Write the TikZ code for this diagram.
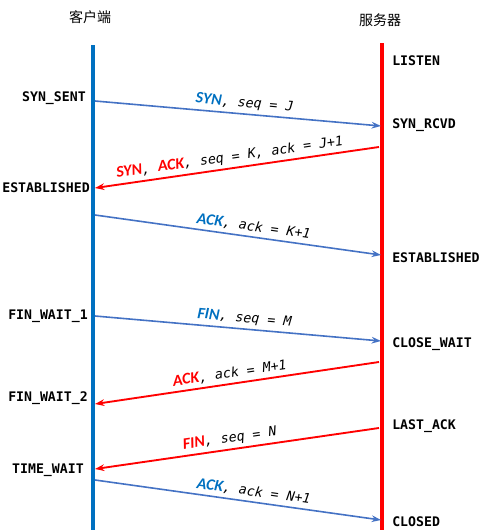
\documentclass[tikz,border=0pt]{standalone}
\usepackage{fontspec}
\usepackage{xcolor}
\setmonofont{DejaVu Sans Mono}
\newfontfamily\cjk{Noto Sans CJK SC}
\newfontfamily\kwfont[Scale=1.2]{Carlito}
\definecolor{lineblue}{RGB}{0,112,192}
\definecolor{arrowblue}{RGB}{68,114,196}
\definecolor{linered}{RGB}{255,0,0}
\newcommand{\st}[1]{\texttt{\bfseries #1}}
\newcommand{\kw}[2]{\textcolor{#1}{\kwfont\bfseries\itshape #2}}
\newcommand{\msg}[1]{\texttt{\itshape #1}}
\usetikzlibrary{arrows.meta}

\begin{document}
\begin{tikzpicture}[x=0.75pt,y=-0.75pt,
	state/.style={inner sep=0pt,font=\fontsize{9.9}{11}\selectfont},
	title/.style={inner sep=0pt,font=\fontsize{10.5}{12}\selectfont\cjk},
	lbl/.style={midway,sloped,above=1.5pt,inner sep=1pt,font=\fontsize{10}{12}\selectfont},
	toserver/.style={draw=arrowblue,line width=1.2pt,-{Stealth[length=7pt,width=5pt]}},
	toclient/.style={draw=linered,line width=1.4pt,-{Stealth[length=7pt,width=5pt]}}]
			\useasboundingbox (0,0) rectangle (484,532);

			% titles and the two lifelines
			\node[title] (client) at (90,17) {客户端};
			\node[title] (server) at (380,20) {服务器};
			\coordinate (ctop) at (93,45);
			\coordinate (cbot) at (93,530);
			\coordinate (stop) at (382,43);
			\coordinate (sbot) at (382,530);
			\draw[lineblue, line width=2.3pt] (ctop) -- (cbot);
			\draw[linered, line width=2.3pt] (stop) -- (sbot);

			% states of the client
			\node[state, anchor=east] (synsent) at (86,98) {\st{SYN\_SENT}};
			\node[state, anchor=east] (cestab) at (90,188) {\st{ESTABLISHED}};
			\node[state, anchor=east] (finwaita) at (88,316) {\st{FIN\_WAIT\_1}};
			\node[state, anchor=east] (finwaitb) at (88,398) {\st{FIN\_WAIT\_2}};
			\node[state, anchor=east] (timewait) at (84,470) {\st{TIME\_WAIT}};

			% states of the server
			\node[state, anchor=west] (listen) at (392,61) {\st{LISTEN}};
			\node[state, anchor=west] (synrcvd) at (392,125) {\st{SYN\_RCVD}};
			\node[state, anchor=west] (sestab) at (392,258) {\st{ESTABLISHED}};
			\node[state, anchor=west] (closewait) at (392,344) {\st{CLOSE\_WAIT}};
			\node[state, anchor=west] (lastack) at (392,426) {\st{LAST\_ACK}};
			\node[state, anchor=west] (closed) at (392,522) {\st{CLOSED}};

			% ends of the messages on the lifelines
			\coordinate (ca) at (95,101);  \coordinate (sa) at (381,126);
			\coordinate (sb) at (379,147); \coordinate (cb) at (95,188);
			\coordinate (cc) at (95,215);  \coordinate (sc) at (381,255);
			\coordinate (cd) at (95,316);  \coordinate (sd) at (381,341);
			\coordinate (se) at (379,362); \coordinate (ce) at (95,404);
			\coordinate (sf) at (379,428); \coordinate (cf) at (95,469);
			\coordinate (cg) at (95,480);  \coordinate (sg) at (381,520);

			% handshake
			\draw[toserver] (ca) -- node[lbl, pos=0.52] {\kw{lineblue}{SYN}\msg{, seq = J}} (sa);
			\draw[toclient] (sb) -- node[lbl, pos=0.52] {\kw{linered}{SYN}\msg{, }\kw{linered}{ACK}\msg{, seq = K, ack = J+1}} (cb);
			\draw[toserver] (cc) -- node[lbl, pos=0.55] {\kw{lineblue}{ACK}\msg{, ack = K+1}} (sc);

			% closing
			\draw[toserver] (cd) -- node[lbl, pos=0.52] {\kw{lineblue}{FIN}\msg{, seq = M}} (sd);
			\draw[toclient] (se) -- node[lbl, pos=0.52] {\kw{linered}{ACK}\msg{, ack = M+1}} (ce);
			\draw[toclient] (sf) -- node[lbl, pos=0.52] {\kw{linered}{FIN}\msg{, seq = N}} (cf);
			\draw[toserver] (cg) -- node[lbl, pos=0.55] {\kw{lineblue}{ACK}\msg{, ack = N+1}} (sg);

		\end{tikzpicture}
\end{document}
